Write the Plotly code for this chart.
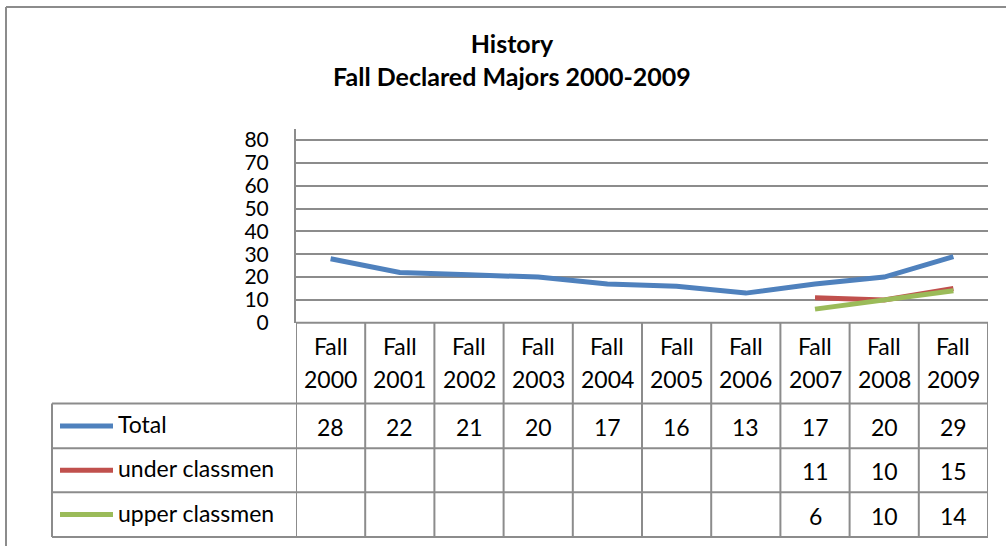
import plotly.graph_objects as go

categories = ["Fall 2000", "Fall 2001", "Fall 2002", "Fall 2003", "Fall 2004",
              "Fall 2005", "Fall 2006", "Fall 2007", "Fall 2008", "Fall 2009"]
total = [28, 22, 21, 20, 17, 16, 13, 17, 20, 29]
under_classmen = [None, None, None, None, None, None, None, 11, 10, 15]
upper_classmen = [None, None, None, None, None, None, None, 6, 10, 14]
series_names = ["Total", "under classmen", "upper classmen"]
series_colors = ["#4F81BD", "#C0504D", "#9BBB59"]
y_ticks = [0, 10, 20, 30, 40, 50, 60, 70, 80]

W, H = 1006, 546
FIG_H = 557
FONT = "Lato"
GRID = "#8C8C8C"
TXT = 23

def px(x):
    return x / W

def py(y):
    return 1 - y / H

x_idx = list(range(len(categories)))
fig = go.Figure()
for name, vals, col in zip(series_names, [total, under_classmen, upper_classmen], series_colors):
    fig.add_trace(go.Scatter(x=x_idx, y=vals, mode="lines", name=name,
                             line=dict(color=col, width=5), connectgaps=False,
                             showlegend=False, hoverinfo="skip"))

plot_top, plot_bot = 127, 322
plot_left, plot_right = 296, 988
row_lines = [403, 448, 492, 537]
legend_left = 52

fig.update_layout(
    width=W, height=FIG_H,
    margin=dict(l=0, r=0, t=0, b=0),
    paper_bgcolor="white", plot_bgcolor="white",
    showlegend=False,
    xaxis=dict(domain=[px(plot_left), px(plot_right)], range=[-0.5, len(categories) - 0.5],
               showticklabels=False, showgrid=False, zeroline=False, showline=False,
               fixedrange=True),
    yaxis=dict(domain=[py(plot_bot), py(plot_top)], range=[0, 85],
               tickvals=y_ticks, ticktext=[str(v) for v in y_ticks],
               showgrid=True, gridcolor=GRID, gridwidth=1.5, zeroline=False,
               showline=True, linecolor=GRID, linewidth=2,
               ticks="", ticklabelstandoff=21,
               tickfont=dict(family=FONT, size=21, color="black"), fixedrange=True),
    title=dict(text="<b>History</b><br><b>Fall Declared Majors 2000-2009</b>",
               x=px(512), xanchor="center", y=py(52), yanchor="middle",
               font=dict(family=FONT, size=25, color="black")),
)

shapes = []
line_style = dict(color=GRID, width=2)
shapes.append(dict(type="line", xref="paper", yref="paper", x0=px(6), x1=1, y0=py(5), y1=py(5), line=line_style))
shapes.append(dict(type="line", xref="paper", yref="paper", x0=px(6), x1=px(6), y0=py(5), y1=0, line=line_style))
shapes.append(dict(type="line", xref="paper", yref="paper", x0=px(plot_left), x1=px(plot_right),
                   y0=py(plot_bot), y1=py(plot_bot), line=line_style))
for k in range(len(categories) + 1):
    shapes.append(dict(type="line", xref="x", yref="paper", x0=k - 0.5, x1=k - 0.5,
                       y0=py(plot_bot), y1=py(row_lines[-1]), line=line_style))
for r in row_lines:
    shapes.append(dict(type="line", xref="paper", yref="paper", x0=px(legend_left), x1=px(plot_right),
                       y0=py(r), y1=py(r), line=line_style))
shapes.append(dict(type="line", xref="paper", yref="paper", x0=px(legend_left), x1=px(legend_left),
                   y0=py(row_lines[0]), y1=py(row_lines[-1]), line=line_style))

annotations = []
for i, c in enumerate(categories):
    a, b = c.split(" ")
    annotations.append(dict(x=i, y=py(345), xref="x", yref="paper", text=a, showarrow=False,
                            font=dict(family=FONT, size=TXT, color="black"), xanchor="center", yanchor="middle"))
    annotations.append(dict(x=i, y=py(378), xref="x", yref="paper", text=b, showarrow=False,
                            font=dict(family=FONT, size=TXT, color="black"), xanchor="center", yanchor="middle"))

row_centers = [(row_lines[j] + row_lines[j + 1]) / 2 for j in range(3)]
for j, (name, vals, col) in enumerate(zip(series_names, [total, under_classmen, upper_classmen], series_colors)):
    yc = row_centers[j]
    shapes.append(dict(type="line", xref="paper", yref="paper", x0=px(60), x1=px(113),
                       y0=py(yc), y1=py(yc), line=dict(color=col, width=5)))
    annotations.append(dict(x=px(116), y=py(yc - 2), xref="paper", yref="paper", text=name, showarrow=False,
                            font=dict(family=FONT, size=TXT, color="black"), xanchor="left", yanchor="middle"))
    for i, v in enumerate(vals):
        if v is None:
            continue
        annotations.append(dict(x=i, y=py(yc + 1), xref="x", yref="paper", text=str(v), showarrow=False,
                                font=dict(family=FONT, size=TXT, color="black"), xanchor="center", yanchor="middle"))

fig.update_layout(shapes=shapes, annotations=annotations)
fig.write_html("out.html", post_script="document.body.style.margin='0';", config={"displayModeBar": False})
